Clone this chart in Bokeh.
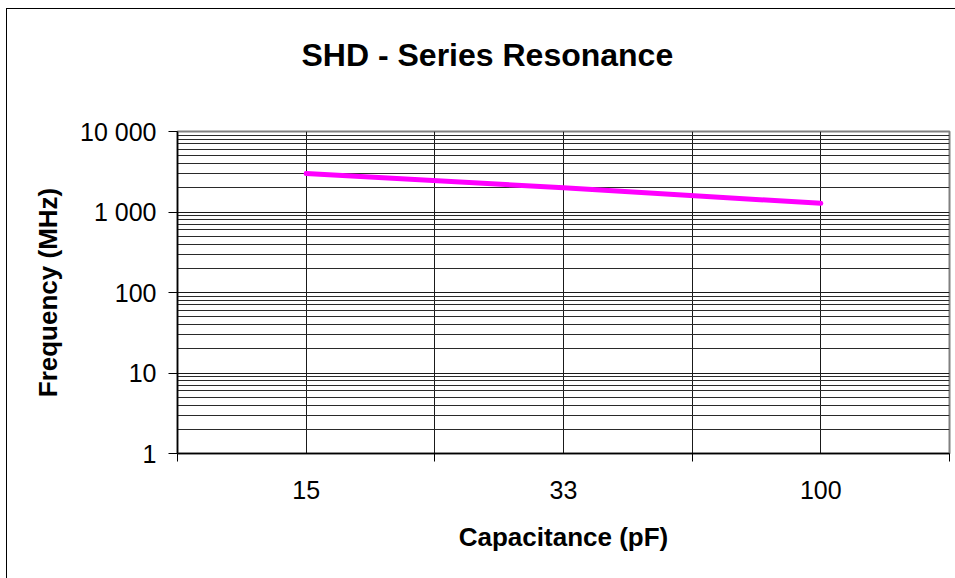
from bokeh.plotting import figure
from bokeh.models import Range1d, FixedTicker, LinearAxis, Title
from bokeh.embed import file_html
from bokeh.resources import INLINE

# ---- data ----
categories = ["15", "33", "100"]
frequency_mhz = [3000, 2000, 1280]
y_tick_values = [1, 10, 100, 1000, 10000]
y_tick_labels = ["1", "10", "100", "1 000", "10 000"]
title_text = "SHD - Series Resonance"
x_label = "Capacitance (pF)"
y_label = "Frequency (MHz)"

FONT = "Liberation Sans"

x_pos = [i + 0.5 for i in range(len(categories))]

p = figure(width=949, height=570, output_backend="svg", toolbar_location=None,
           y_axis_type="log", x_range=Range1d(0, len(categories)),
           y_range=Range1d(y_tick_values[0], y_tick_values[-1]),
           x_axis_location=None)
p.min_border_left = 170
p.min_border_right = 7
p.min_border_top = 122
p.min_border_bottom = 126
p.background_fill_color = "white"
p.border_fill_color = "white"
p.outline_line_color = "#808080"
p.outline_line_width = 2
p.styles = {"border-left": "1px solid black", "border-top": "1px solid black",
            "border-right": "none", "border-bottom": "none",
            "margin-left": "6px", "margin-top": "8px"}

# spacer between frame and title, then the title itself
p.add_layout(Title(text=" ", text_font_size="1px", standoff=56), "above")
p.add_layout(Title(text=title_text, align="left", offset=124, standoff=0,
                   vertical_align="bottom", text_font=FONT, text_font_style="bold",
                   text_font_size="32px", text_color="black"), "above")

# x axis (categorical look on numeric scale)
xaxis = LinearAxis(
    ticker=FixedTicker(ticks=x_pos, minor_ticks=list(range(len(categories) + 1))),
    major_label_overrides={x: c for x, c in zip(x_pos, categories)},
)
xaxis.major_tick_out = 0
xaxis.major_tick_in = 0
xaxis.minor_tick_out = 8
xaxis.minor_tick_in = 0
xaxis.minor_tick_line_color = "black"
xaxis.axis_line_color = "black"
xaxis.axis_line_width = 1.5
xaxis.major_label_standoff = 19
xaxis.major_label_text_font = FONT
xaxis.major_label_text_font_size = "25px"
xaxis.major_label_text_color = "black"
xaxis.axis_label = x_label
xaxis.axis_label_text_font = FONT
xaxis.axis_label_text_font_style = "bold"
xaxis.axis_label_text_font_size = "26px"
xaxis.axis_label_text_color = "black"
xaxis.axis_label_standoff = 20
p.add_layout(xaxis, "below")

# y axis
minor = [k * d for d in y_tick_values[:-1] for k in range(2, 10)]
yticker = FixedTicker(ticks=y_tick_values, minor_ticks=minor)
yaxis = p.yaxis[0]
yaxis.ticker = yticker
yaxis.major_label_overrides = {v: l for v, l in zip(y_tick_values, y_tick_labels)}
yaxis.major_tick_out = 9
yaxis.major_tick_in = 0
yaxis.major_tick_line_color = "black"
yaxis.minor_tick_out = 0
yaxis.minor_tick_in = 0
yaxis.axis_line_color = "black"
yaxis.axis_line_width = 1.5
yaxis.major_label_standoff = 12
yaxis.major_label_text_font = FONT
yaxis.major_label_text_font_size = "25px"
yaxis.major_label_text_color = "black"
yaxis.axis_label = y_label
yaxis.axis_label_text_font = FONT
yaxis.axis_label_text_font_style = "bold"
yaxis.axis_label_text_font_size = "26px"
yaxis.axis_label_text_color = "black"
yaxis.axis_label_standoff = 14

# grids
p.ygrid.ticker = yticker
p.ygrid.grid_line_color = "#1a1a1a"
p.ygrid.grid_line_width = 1
p.ygrid.minor_grid_line_color = "#2a2a2a"
p.ygrid.minor_grid_line_width = 1
p.xgrid.ticker = FixedTicker(ticks=[0.5, 1, 1.5, 2, 2.5])
p.xgrid.grid_line_color = "#1a1a1a"
p.xgrid.grid_line_width = 1

# series
p.line(x_pos, frequency_mhz, line_color="#FF00FF", line_width=5, line_cap="round")

open("out.html", "w").write(file_html(p, INLINE))
